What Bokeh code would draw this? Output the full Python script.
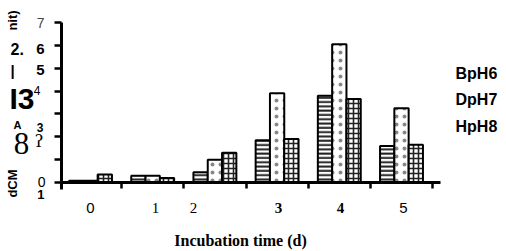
import math
from bokeh.plotting import figure
from bokeh.models import Range1d, Label, FixedTicker, ColumnDataSource
from bokeh.transform import dodge
from bokeh.embed import file_html
from bokeh.resources import INLINE

# ---- data ----
days = [0, 1, 2, 3, 4, 5]
x_tick_labels = ["0", "1", "2", "3", "4", "5"]
bph6 = [0.08, 0.30, 0.45, 1.85, 3.80, 1.60]
dph7 = [0.08, 0.30, 1.00, 3.90, 6.05, 3.25]
hph8 = [0.35, 0.20, 1.30, 1.90, 3.65, 1.65]
series_names = ["BpH6", "DpH7", "HpH8"]
y_ticks = [0, 1, 2, 3, 4, 5, 6, 7]
y_tick_labels = ["0", "1", "\u0294", "3", "4", "5", "6", "7"]
x_axis_title = "Incubation time (d)"

# ---- layout: frame spans the whole canvas, axes sit at fixed locations ----
W, H = 506, 251
SX, SY = 62.2, 160 / 7.0     # pixels per day / per unit
OX, OY = 90, 182             # pixel position of day 0 / value 0
X_LEFT, X_RIGHT = (61 - OX) / SX, (440 - OX) / SX


def X(px):
    return (px - OX) / SX


def Y(py):
    return (OY - py) / SY


src = ColumnDataSource(dict(day=days, b=bph6, d=dph7, h=hph8))

p = figure(width=W, height=H, output_backend="svg", toolbar_location=None,
           x_range=Range1d(X(0), X(W)), y_range=Range1d(Y(H), Y(0)),
           min_border=0)
p.outline_line_color = None
p.grid.visible = False
p.background_fill_color = "white"

bw = 0.23
p.vbar(x=dodge("day", -bw, range=p.x_range), top="b", width=bw, source=src,
       fill_color="white", line_color="black", line_width=2,
       hatch_pattern="horizontal_line", hatch_scale=4.3, hatch_weight=2,
       hatch_color="#222222")
p.vbar(x=dodge("day", 0, range=p.x_range), top="d", width=bw, source=src,
       fill_color="white", line_color="black", line_width=2,
       hatch_pattern="dot", hatch_scale=8, hatch_weight=1.2,
       hatch_color="#888888")
p.vbar(x=dodge("day", bw, range=p.x_range), top="h", width=bw, source=src,
       fill_color="white", line_color="black", line_width=2,
       hatch_pattern="cross", hatch_scale=5, hatch_weight=1.6,
       hatch_color="#222222")

# axes
p.yaxis.fixed_location = X_LEFT
p.yaxis.bounds = (-0.3, 7)
p.yaxis.ticker = FixedTicker(ticks=y_ticks)
p.yaxis.major_label_text_color = None
p.yaxis.axis_line_width = 3
p.yaxis.major_tick_line_width = 2.5
p.yaxis.major_tick_out = 7
p.yaxis.major_tick_in = 0
p.yaxis.minor_tick_line_color = None

p.xaxis.fixed_location = 0
p.xaxis.bounds = (X_LEFT, X_RIGHT)
p.xaxis.ticker = FixedTicker(ticks=[d + 0.5 for d in days])
p.xaxis.major_label_text_color = None
p.xaxis.axis_line_width = 3
p.xaxis.major_tick_line_width = 2.5
p.xaxis.major_tick_out = 6
p.xaxis.major_tick_in = 0
p.xaxis.minor_tick_line_color = None


def lab(text, px, py, size, font="Liberation Sans", style="bold", align="center",
        baseline="middle", color="black", angle=0.0):
    p.add_layout(Label(x=X(px), y=Y(py), text=text, text_font=font,
                       text_font_size=f"{size}px", text_font_style=style,
                       text_align=align, text_baseline=baseline,
                       text_color=color, angle=angle))


# y tick labels (scan positions are irregular)
lab(y_tick_labels[7], 44, 22, 14, style="normal", align="right", color="#444444")
lab(y_tick_labels[6], 44, 48, 15, align="right")
lab(y_tick_labels[5], 44, 69, 15, align="right")
lab(y_tick_labels[4], 40, 90, 12, style="normal", align="right")
lab(y_tick_labels[3], 43, 127, 12, align="right")
lab(y_tick_labels[2], 43, 140, 17, font="DejaVu Serif", style="normal", align="right")
lab(y_tick_labels[0], 45, 181, 14, style="normal", align="right")
lab(y_tick_labels[1], 44, 194, 13, align="right")

# stray scanned fragments on the left
lab("nit)", 12, 20, 13, angle=math.pi / 2)
lab("2.", 10, 48, 16, align="left")
lab("|", 12, 70, 15)
lab("I3", 9, 98, 30, align="left")
lab("A", 17, 124, 11)
lab("8", 21, 143, 31, font="Liberation Serif", style="normal")
lab("dCM", 12, 183, 13, angle=math.pi / 2)

# legend texts
for name, py in zip(series_names, [73, 99, 126]):
    lab(name, 455, py, 16, align="left")

# x tick labels
xl_px = [90, 155, 193, 278, 340, 403]
xl_font = ["Liberation Sans", "Liberation Serif", "Liberation Serif",
           "Liberation Serif", "Liberation Serif", "Liberation Sans"]
xl_style = ["normal", "normal", "normal", "bold", "bold", "normal"]
for t, px, f, s in zip(x_tick_labels, xl_px, xl_font, xl_style):
    lab(t, px, 207, 15, font=f, style=s)

lab(x_axis_title, 240, 240, 16, font="Liberation Serif")

open("out.html", "w").write(file_html(p, INLINE))
